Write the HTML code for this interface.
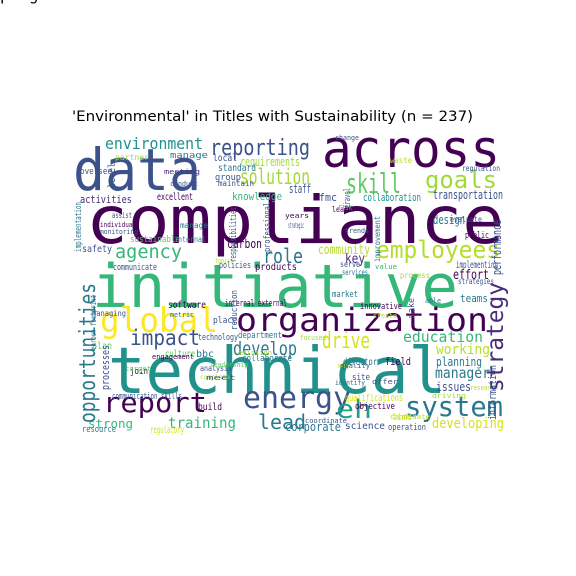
<!DOCTYPE html>
<html><head><meta charset="utf-8"><style>
html,body{margin:0;padding:0;background:#fff;width:576px;height:576px;overflow:hidden}
svg{display:block}
</style></head><body>
<svg id="chart" width="576" height="576" viewBox="0 0 576 576" xmlns="http://www.w3.org/2000/svg">
<rect x="0" y="0" width="576" height="576" fill="#fff"/>
<text x="72" y="121" font-family="DejaVu Sans, Liberation Sans, sans-serif" font-size="14" textLength="401" lengthAdjust="spacingAndGlyphs" fill="#000">'Environmental' in Titles with Sustainability (n = 237)</text>
<g id="cloud"></g>
</svg>
<script>
// words: text, x, baseline y, width, font size, color
const words = ["compliance","initiative","technical","data","across","organization","global","system","report","energy","reporting","environment","solution","skill","goals","employees","agency","role","impact","develop","drive","education","working","planning","manager","issues","eh","training","lead","developing","corporate","science","community","transportation","collaboration","design","fmc","staff","key","effort","implementing","carbon","strong","activities","knowledge","requirements","local","standard","safety","communicate","excellent","products","policies","culture","bbc","software","place","internal external","technology","department","plan","collaborate","communication skills","build","resource","regulatory","analysis","join","market","innovative","teams","strategies","director","field","site","qualifications","objective","time","operation","partner","manage","oversee","group","maintain","individual","monitoring","assist","sustainable","internal","leader","change","waste","regulation","evaluate","public","trends","serve","services","value","process","manage","meeting","conduct","topics","years","strategic","risk","able","create","may","offer","candidate","coordinate","target","metric","emission","engagement","leadership","managing","complete","meet","focused","identify","research","quality","driving","progress"];
const xs = [86,92,108,73,322,236,100,405,103,243,210,105,240,346,425,376,115,263,130,233,322,403,436,436,435,436,336,168,258,432,285,345,318,433,363,433,319,289,345,453,456,227,88,80,232,240,213,218,82,113,157,255,219,165,196,168,213,225,198,238,92,242,112,198,82,150,200,130,332,360,460,458,343,385,352,345,355,392,388,115,170,80,215,218,100,100,112,130,174,332,335,390,462,450,465,345,340,342,375,400,180,164,170,215,285,288,338,425,373,338,372,390,305,125,170,238,152,210,92,200,206,300,335,470,340,432];
const ys = [243,307,393,190,167,331,332,416,412,408,155,149,184,193,188,258,258,263,345,355,348,342,354,366,378,391,418,428,429,428,431,429,254,199,201,224,201,193,263,279,268,248,428,203,200,166,161,171,252,270,200,270,268,357,357,308,323,306,340,338,349,361,399,410,432,433,371,374,297,309,302,284,365,365,380,401,409,420,430,160,158,174,180,186,227,234,218,242,242,212,140,163,171,222,238,233,267,275,269,278,228,174,186,263,218,228,210,303,318,368,384,419,423,371,317,355,359,367,316,379,380,340,385,390,368,398];
const ws = [418,366,338,128,178,252,118,98,104,108,100,98,70,55,72,124,67,40,70,64,48,80,54,46,55,35,36,68,48,72,56,40,52,70,58,32,18,22,20,36,42,35,45,52,50,60,24,38,30,44,36,42,32,30,18,38,24,62,40,44,20,50,70,24,34,34,32,18,26,42,28,36,34,26,18,58,40,20,38,34,38,32,26,36,36,38,20,50,32,24,24,22,38,32,24,24,20,26,22,30,28,36,28,18,24,16,14,16,24,12,26,40,42,26,24,34,42,38,34,30,30,26,30,28,30,34];
const fs = [66,60,64,58,52,32,34,28,28,30,22,16,21,28,24,24,19,20,21,19,22,15,14,12,15,12,26,15,20,14,12,10,13,12,11,12,11,12,13,13,10,12,12,11,11,12,10,10,10,9,10,10,9,10,10,10,9,9,9,9,10,9,9,10,9,10,8,9,9,9,11,8,10,11,9,10,9,10,9,8,9,9,9,8,7,7,8,9,8,8,7,8,8,8,9,7,8,8,7,8,8,7,7,7,7,8,9,7,7,7,7,7,7,7,7,7,7,7,8,6,7,7,7,7,7,7];
const cs = ["#440154","#35b779","#21918c","#3b528b","#440154","#440154","#fde725","#2a788e","#440154","#3b528b","#3b528b","#21918c","#a0da39","#5ec962","#a0da39","#b5de2b","#35b779","#2a788e","#3b528b","#2a788e","#d8e219","#35b779","#b5de2b","#2a788e","#2a788e","#3b528b","#1fa187","#35b779","#2a788e","#d8e219","#2a788e","#3b528b","#b5de2b","#3b528b","#21918c","#2a788e","#3b528b","#3b528b","#472d7b","#440154","#3b528b","#440154","#35b779","#472d7b","#35b779","#a0da39","#3b528b","#2a788e","#3b528b","#3b528b","#440154","#440154","#3b528b","#5ec962","#2a788e","#440154","#3b528b","#440154","#3b528b","#2a788e","#5ec962","#2a788e","#3b528b","#440154","#2a788e","#d8e219","#3b528b","#440154","#2a788e","#440154","#2a788e","#3b528b","#2a788e","#440154","#3b528b","#d8e219","#440154","#d8e219","#3b528b","#a0da39","#2a788e","#3b528b","#3b528b","#3b528b","#440154","#3b528b","#3b528b","#5ec962","#21918c","#440154","#3b528b","#b5de2b","#3b528b","#3b528b","#440154","#3b528b","#3b528b","#2a788e","#35b779","#a0da39","#2a788e","#472d7b","#3b528b","#b5de2b","#440154","#3b528b","#35b779","#2a788e","#b5de2b","#d8e219","#3b528b","#b5de2b","#3b528b","#5ec962","#2a788e","#a0da39","#440154","#5ec962","#3b528b","#b5de2b","#3b528b","#a0da39","#2a788e","#b5de2b","#3b528b","#a0da39"];
// vertical words: text, baseline x, start y (bottom), length, size, color
const vWords = ["opportunities","strategy","performance","information","processes","implementation","level","professional","responsibilities","reduction","travel","improvement","make","carbon footprint"];
const vxs = [95,503,501,496,109,81,115,270,236,237,350,380,414,96];
const vys = [423,392,275,420,390,252,188,252,262,330,208,262,318,350];
const vls = [140,110,55,55,45,50,25,50,55,40,20,46,20,55];
const vfs = [22,23,12,11,11,9,10,9,9,9,9,8,9,8];
const vcs = ["#2a788e","#472d7b","#3b528b","#3b528b","#3b528b","#2a788e","#3b528b","#3b528b","#3b528b","#3b528b","#3b528b","#2a788e","#3b528b","#2a788e"];
const NS = "http://www.w3.org/2000/svg";
const g = document.getElementById('cloud');
const FONT = '"DejaVu Sans Mono", "Liberation Mono", monospace';
words.forEach((w, i) => {
  const t = document.createElementNS(NS, 'text');
  
  
  t.setAttribute('x', xs[i]);
  t.setAttribute('y', ys[i]);
  t.setAttribute('font-family', FONT);
  t.setAttribute('font-size', fs[i]);
  t.setAttribute('textLength', ws[i]);
  t.setAttribute('lengthAdjust', 'spacingAndGlyphs');
  t.setAttribute('fill', cs[i]);
  t.textContent = w;
  g.appendChild(t);
});
vWords.forEach((w, i) => {
  const t = document.createElementNS(NS, 'text');
  
  
  t.setAttribute('x', 0);
  t.setAttribute('y', 0);
  t.setAttribute('transform', 'translate(' + vxs[i] + ',' + vys[i] + ') rotate(-90)');
  t.setAttribute('font-family', FONT);
  t.setAttribute('font-size', vfs[i]);
  t.setAttribute('textLength', vls[i]);
  t.setAttribute('lengthAdjust', 'spacingAndGlyphs');
  t.setAttribute('fill', vcs[i]);
  t.textContent = w;
  g.appendChild(t);
});
</script>
</body></html>
